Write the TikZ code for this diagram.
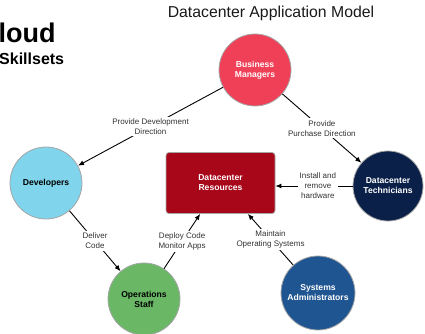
\documentclass[tikz,border=0pt]{standalone}
\usepackage{fontspec}
\setmainfont{Liberation Sans}
\usetikzlibrary{arrows.meta}

\definecolor{mgrred}{RGB}{239,64,88}
\definecolor{devblue}{RGB}{128,212,236}
\definecolor{resred}{RGB}{168,7,26}
\definecolor{technavy}{RGB}{10,32,72}
\definecolor{opsgreen}{RGB}{106,184,102}
\definecolor{sysblue}{RGB}{31,85,145}

\begin{document}
\begin{tikzpicture}[x=1pt, y=-1pt,
    role/.style={circle, draw=gray!70, line width=0.8pt, minimum size=72pt,
      inner sep=0pt, align=center, font=\bfseries\fontsize{8.6}{10}\selectfont},
    flow/.style={-{Latex[length=6pt,width=5pt]}, line width=0.9pt},
    lbl/.style={fill=white, align=center, inner sep=2pt, text=black!80,
      font=\fontsize{8}{10}\selectfont}]
    \useasboundingbox (0,0) rectangle (425,334);

    % Headings
    \node[anchor=base west, inner sep=0pt, font=\bfseries\fontsize{27}{30}\selectfont] (head) at (-1.5,43) {loud};
    \node[anchor=base west, inner sep=0pt, font=\bfseries\fontsize{16}{18}\selectfont] (sub) at (-1,65) {Skillsets};
    \node[anchor=base, inner sep=0pt, text=black!90, font=\fontsize{15.8}{18}\selectfont] (title) at (271,18) {Datacenter Application Model};

    % Roles
    \node[role, fill=mgrred, text=white] (bm) at (255,70) {Business\\Managers};
    \node[role, fill=devblue] (dev) at (46,183) {Developers};
    \node[role, fill=technavy, text=white, minimum size=70pt] (tech) at (388,186) {Datacenter\\Technicians};
    \node[role, fill=opsgreen] (ops) at (144,299) {Operations\\Staff};
    \node[role, fill=sysblue, text=white, minimum size=74pt] (sys) at (318,293) {Systems\\Administrators};

    % Shared resources
    \node[draw=gray!70, line width=0.8pt, fill=resred, text=white, rounded corners=3pt,
      minimum width=109pt, minimum height=61pt, align=center,
      font=\bfseries\fontsize{8.6}{10}\selectfont] (res) at (220.5,183) {Datacenter\\Resources};

    % Flows
    \draw[flow] (bm) -- node[lbl] {Provide Development\\Direction} (dev);
    \draw[flow] (bm) -- node[lbl] {Provide\\Purchase Direction} (tech);
    \draw[flow] (tech.west) -- node[lbl, pos=0.45] {Install and\\remove\\hardware} (tech.west -| res.east);
    \draw[flow] (dev) -- node[lbl] {Deliver\\Code} (ops);
    \draw[flow] (ops) -- node[lbl] {Deploy Code\\Monitor Apps} (res);
    \draw[flow] (sys) -- node[lbl] {Maintain\\Operating Systems} (res);
\end{tikzpicture}
\end{document}
